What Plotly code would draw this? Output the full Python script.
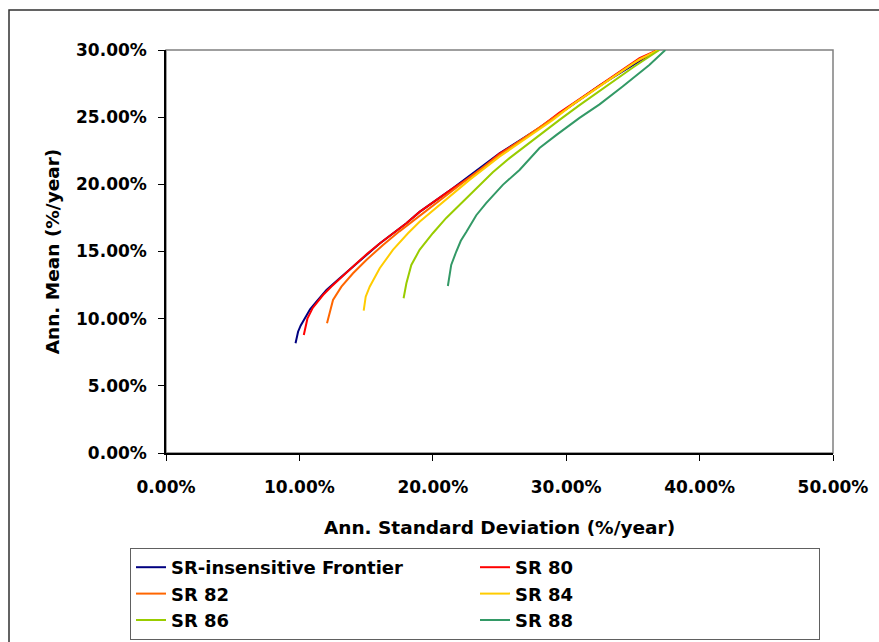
import plotly.graph_objects as go

# Data (percent values)
names = ["SR-insensitive Frontier", "SR 80", "SR 82", "SR 84", "SR 86", "SR 88"]
colors = ["#000080", "#FF0000", "#FF6600", "#FFCC00", "#99CC00", "#339966"]

frontier_std = [9.71, 9.80, 9.90, 10.10, 10.40, 10.80, 11.28, 12.03, 13.02, 14.27, 16.02, 18.02, 19.01, 21.50, 25.00, 28.00, 32.50, 36.85]
frontier_mean = [8.17, 8.60, 9.03, 9.50, 10.03, 10.70, 11.27, 12.14, 13.00, 14.10, 15.60, 17.10, 17.95, 19.70, 22.30, 24.20, 27.35, 30.00]

sr80_std = [10.33, 10.45, 10.60, 11.00, 11.77, 12.40, 13.02, 13.60, 14.27, 15.10, 16.02, 17.00, 18.02, 19.01, 20.20, 21.50, 22.50, 23.70, 25.00, 26.50, 28.00, 29.50, 31.00, 32.50, 34.00, 35.50, 36.85]
sr80_mean = [8.79, 9.40, 10.00, 10.80, 11.76, 12.40, 13.00, 13.50, 14.10, 14.85, 15.60, 16.35, 17.10, 17.95, 18.80, 19.70, 20.35, 21.20, 22.30, 23.20, 24.20, 25.35, 26.35, 27.35, 28.35, 29.40, 30.00]

sr82_std = [12.07, 12.15, 12.22, 12.52, 13.15, 14.02, 15.02, 16.27, 17.50, 18.80, 20.20, 21.50, 23.00, 25.00, 27.00, 29.00, 31.00, 33.00, 35.00, 36.90]
sr82_mean = [9.66, 10.00, 10.28, 11.39, 12.38, 13.38, 14.37, 15.49, 16.50, 17.50, 18.60, 19.60, 20.70, 22.20, 23.55, 24.90, 26.30, 27.65, 29.00, 30.00]

sr84_std = [14.82, 14.90, 14.97, 15.27, 16.02, 17.01, 18.14, 19.01, 19.76, 21.26, 22.75, 25.00, 27.00, 29.00, 30.49, 32.98, 35.48, 36.90]
sr84_mean = [10.60, 11.10, 11.64, 12.38, 13.75, 15.12, 16.36, 17.22, 17.85, 19.08, 20.33, 22.06, 23.45, 24.80, 25.95, 27.60, 29.30, 30.00]

sr86_std = [17.81, 17.90, 18.02, 18.39, 19.01, 20.00, 21.01, 22.25, 23.50, 24.50, 25.75, 27.00, 28.00, 29.50, 31.00, 33.00, 35.00, 36.98]
sr86_mean = [11.52, 12.10, 12.64, 14.00, 15.12, 16.36, 17.50, 18.70, 19.96, 20.90, 21.95, 22.90, 23.70, 24.80, 25.90, 27.30, 28.70, 30.00]

sr88_std = [21.13, 21.20, 21.38, 21.76, 22.10, 22.51, 23.26, 24.00, 25.25, 26.50, 28.00, 29.30, 31.00, 32.50, 34.23, 36.23, 37.43]
sr88_mean = [12.43, 13.00, 14.00, 15.00, 15.80, 16.45, 17.70, 18.60, 19.96, 21.07, 22.70, 23.70, 24.95, 25.95, 27.28, 28.89, 30.00]

x_ticks = [0, 0.1, 0.2, 0.3, 0.4, 0.5]
y_ticks = [0, 0.05, 0.10, 0.15, 0.20, 0.25, 0.30]

series = [
    (frontier_std, frontier_mean),
    (sr80_std, sr80_mean),
    (sr82_std, sr82_mean),
    (sr84_std, sr84_mean),
    (sr86_std, sr86_mean),
    (sr88_std, sr88_mean),
]

FONT = "DejaVu Sans, Liberation Sans, Arial, sans-serif"

fig = go.Figure()
for (sx, sy), name, col in zip(series, names, colors):
    fig.add_trace(go.Scatter(
        x=[v / 100 for v in sx], y=[v / 100 for v in sy],
        mode="lines", name=name,
        line=dict(color=col, width=2),
    ))

W, H = 879, 642
L, R, T, B = 166, 46, 50, 189
pw, ph = W - L - R, H - T - B

def px(xp):
    return (xp - L) / pw

def py(yp):
    return (H - B - yp) / ph

fig.update_layout(
    width=W, height=H,
    margin=dict(l=L, r=R, t=T, b=B, autoexpand=False),
    paper_bgcolor="white", plot_bgcolor="white",
    font=dict(family=FONT, size=17, color="black"),
    showlegend=True,
    legend=dict(
        orientation="h",
        x=px(130), y=py(548), xanchor="left", yanchor="top",
        xref="paper", yref="paper",
        entrywidth=299, entrywidthmode="pixels",
        bordercolor="#606060", borderwidth=1,
        bgcolor="white",
        font=dict(family=FONT, size=18, color="black", weight="bold"),
        traceorder="normal",
    ),
    shapes=[
        dict(type="rect", xref="paper", yref="paper",
             x0=0, x1=1, y0=0, y1=1,
             line=dict(color="#808080", width=1.5), layer="below"),
        dict(type="rect", xref="paper", yref="paper",
             x0=px(9), x1=px(900), y0=py(660), y1=py(10),
             line=dict(color="#303030", width=1.5), layer="below"),
    ],
)

fig.update_xaxes(
    range=[0, 0.5], tickvals=x_ticks, tickformat=".2%",
    showgrid=False, zeroline=False, automargin=False,
    showline=True, linecolor="black", linewidth=1.5,
    ticks="outside", ticklen=6, tickcolor="black", tickwidth=1,
    ticklabelstandoff=12,
    tickfont=dict(family=FONT, size=17, color="black", weight="bold"),
    title=dict(text="Ann. Standard Deviation (%/year)", standoff=25,
               font=dict(family=FONT, size=18.5, color="black", weight="bold")),
)
fig.update_yaxes(
    range=[0, 0.30], tickvals=y_ticks, tickformat=".2%",
    showgrid=False, zeroline=False, automargin=False,
    showline=True, linecolor="black", linewidth=1.5,
    ticks="outside", ticklen=6, tickcolor="black", tickwidth=1,
    ticklabelstandoff=8,
    tickfont=dict(family=FONT, size=17, color="black", weight="bold"),
    title=dict(text="Ann. Mean (%/year)", standoff=12,
               font=dict(family=FONT, size=18.5, color="black", weight="bold")),
)

fig.write_html(
    "out.html",
    config={"displayModeBar": False},
    post_script="document.body.style.margin='0';document.body.style.overflow='hidden';",
)
